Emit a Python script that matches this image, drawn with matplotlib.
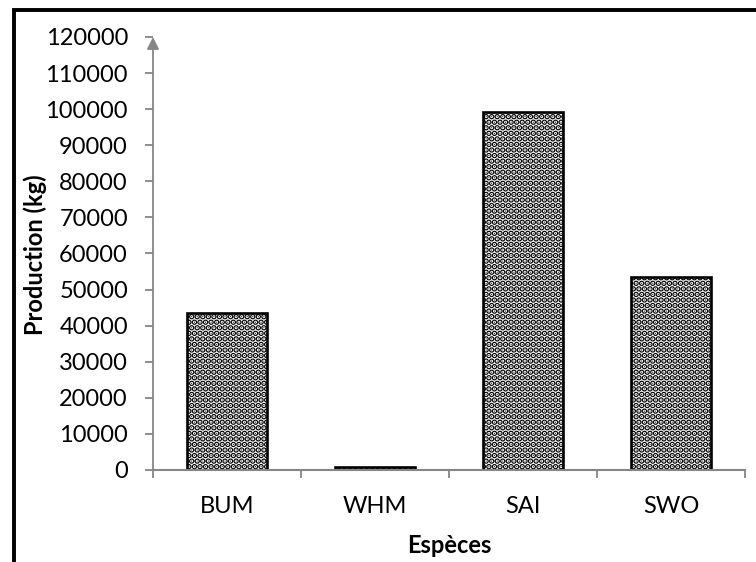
import matplotlib
matplotlib.use("Agg")
import matplotlib.pyplot as plt
from matplotlib.patches import Rectangle

# Données
especes = ["BUM", "WHM", "SAI", "SWO"]
production = [43600, 900, 99200, 53500]
yticks = list(range(0, 120001, 10000))

plt.rcParams["font.family"] = ["Lato", "DejaVu Sans"]
plt.rcParams["hatch.linewidth"] = 3.0

grey = "#868686"
fs = 17

fig = plt.figure(figsize=(7.56, 5.62), dpi=100)
ax = fig.add_axes([153 / 756, 1 - 470 / 562, (745 - 153) / 756, (470 - 37) / 562])

x = list(range(len(especes)))
ax.bar(x, production, width=0.54, color="white", edgecolor="black",
       linewidth=1.9, hatch="...", zorder=2)

ax.set_xlim(-0.5, len(especes) - 0.5)
ax.set_ylim(0, 120000)
ax.set_yticks(yticks)
ax.set_yticklabels([str(v) for v in yticks])

# ticks majeurs aux limites des catégories, étiquettes en mineur
ax.set_xticks([i - 0.5 for i in range(len(especes) + 1)])
ax.set_xticklabels([])
ax.set_xticks(x, minor=True)
ax.set_xticklabels(especes, minor=True)
ax.tick_params(axis="x", which="major", direction="out", length=6, color=grey, width=1.3)
ax.tick_params(axis="x", which="minor", length=0, pad=19, labelsize=fs)
ax.tick_params(axis="y", direction="out", length=6, color=grey, width=1.3, pad=12, labelsize=fs)

for s in ["top", "right", "left"]:
    ax.spines[s].set_visible(False)
ax.spines["bottom"].set_color(grey)
ax.spines["bottom"].set_linewidth(1.5)
ax.spines["bottom"].set_zorder(3)

# axe Y avec flèche
ax.annotate("", xy=(0, 1.0), xytext=(0, 0), xycoords="axes fraction",
            arrowprops=dict(arrowstyle="-|>", color=grey, lw=1.3,
                            shrinkA=0, shrinkB=0, mutation_scale=18))

ax.set_xlabel("Espèces", fontsize=fs, fontweight="bold", labelpad=12)
fig.text(35 / 756, 1 - 255 / 562, "Production (kg)", rotation=90, ha="center",
         va="center", fontsize=fs, fontweight="bold")

# cadre extérieur
fig.patches.append(Rectangle((13.5 / 756, -0.1), 1.0, 1 - 9.5 / 562 + 0.1,
                             transform=fig.transFigure, fill=False,
                             edgecolor="black", linewidth=2.8))

fig.savefig("out.png", dpi=100)
